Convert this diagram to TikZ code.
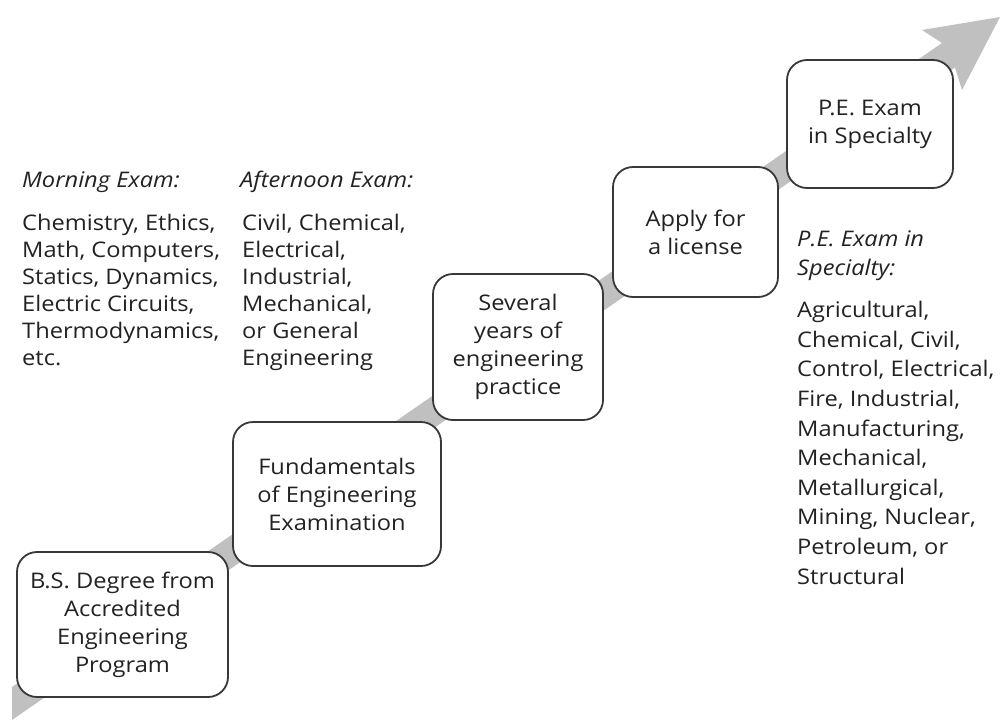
\documentclass[tikz,border=0pt]{standalone}
\usepackage{fontspec}
\setmainfont[FakeStretch=1.1]{Open Sans}
\definecolor{ink}{HTML}{222222}
\definecolor{boxline}{HTML}{383838}
\definecolor{band}{HTML}{C0C0C0}
\begin{document}
\begin{tikzpicture}[x=1pt,y=-1pt,
  stepbox/.style={draw=boxline, line width=1.8pt, rounded corners=20pt,
    fill=white, align=center, inner sep=0pt, text=ink,
    font=\fontsize{21.5}{28}\selectfont},
  % base anchor of a multi-line note sits on its last line
  heading/.style={anchor=base west, align=left, inner sep=0pt, text=ink,
    font=\fontsize{21.5}{28.3}\selectfont\itshape},
  listing/.style={anchor=base west, align=left, inner sep=0pt, text=ink,
    font=\fontsize{21.5}{27}\selectfont},
  widelisting/.style={listing, font=\fontsize{21.5}{29.6}\selectfont}]
\useasboundingbox (0,0) rectangle (1000,720);

% rising path arrow behind the steps
\coordinate (tailU) at (12,687);
\coordinate (tailL) at (12,720);
\coordinate (neckU) at (942,43);
\coordinate (neckL) at (955,67.5);
\coordinate (barbU) at (922,30);
\coordinate (barbL) at (962,90);
\coordinate (tip) at (1000,17);
\fill[band] (tailU) -- (neckU) -- (barbU) -- (tip) -- (barbL) -- (neckL) -- (tailL) -- cycle;

% the five steps
\node[stepbox, minimum width=211pt, minimum height=145pt] (bs) at (122.5,624.5)
  {B.S. Degree from\\Accredited\\Engineering\\Program};
\node[stepbox, minimum width=208pt, minimum height=144pt] (fe) at (337,494)
  {Fundamentals\\of Engineering\\Examination};
\node[stepbox, minimum width=170pt, minimum height=146pt] (practice) at (518,347)
  {Several\\years of\\engineering\\practice};
\node[stepbox, minimum width=165pt, minimum height=130pt] (apply) at (695.5,232)
  {Apply for\\a license};
\node[stepbox, minimum width=166pt, minimum height=128pt] (pe) at (870,124)
  {P.E. Exam\\in Specialty};

% exam subjects
\node[heading] (amhead) at (22,187) {Morning Exam:};
\node[listing] (amlist) at (22,365)
  {Chemistry, Ethics,\\Math, Computers,\\Statics, Dynamics,\\Electric Circuits,\\Thermodynamics,\\etc.};
\node[heading] (pmhead) at (240,187) {Afternoon Exam:};
\node[listing] (pmlist) at (242,365)
  {Civil, Chemical,\\Electrical,\\Industrial,\\Mechanical,\\or General\\Engineering};
\node[heading] (pehead) at (797,275) {P.E. Exam in\\Specialty:};
\node[widelisting] (pelist) at (797,584)
  {Agricultural,\\Chemical, Civil,\\Control, Electrical,\\Fire, Industrial,\\Manufacturing,\\Mechanical,\\Metallurgical,\\Mining, Nuclear,\\Petroleum, or\\Structural};
\end{tikzpicture}
\end{document}
